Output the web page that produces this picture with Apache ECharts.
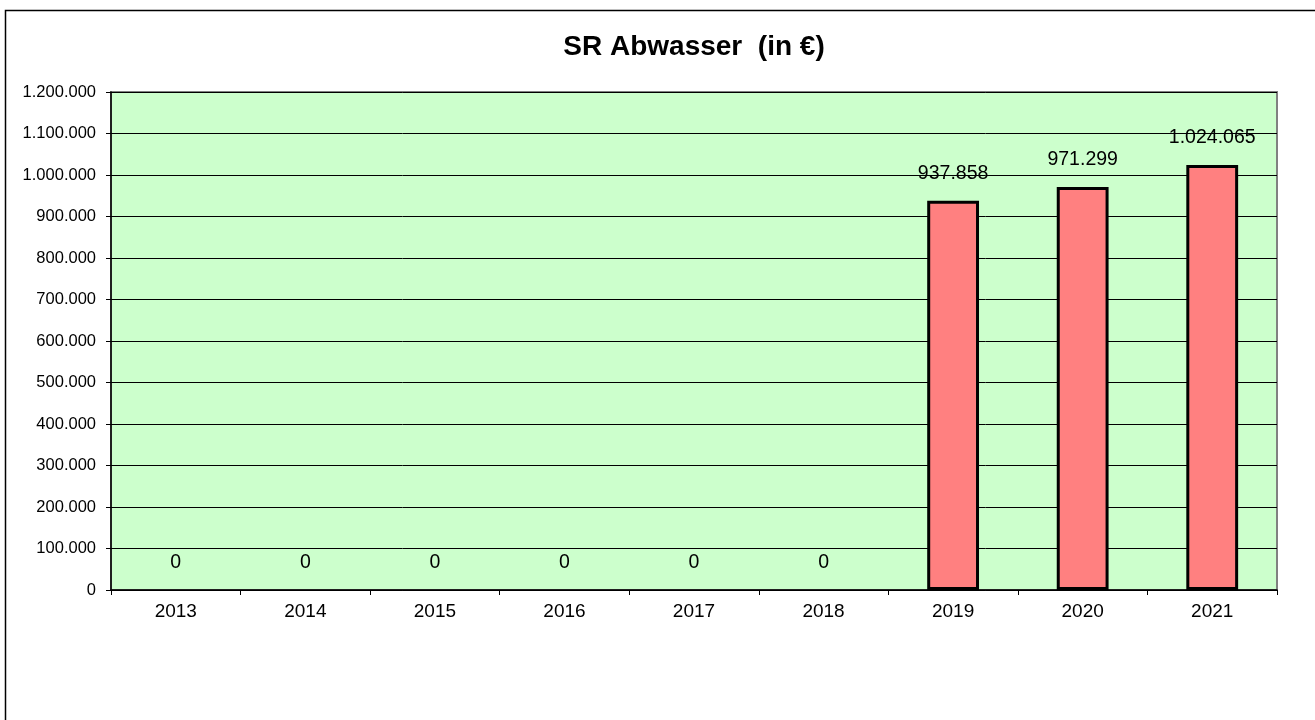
<!DOCTYPE html>
<html>
<head>
<meta charset="utf-8">
<title>SR Abwasser</title>
<script src="https://cdn.jsdelivr.net/npm/echarts@6/dist/echarts.min.js"></script>
<style>
html,body{margin:0;padding:0;background:#fff;}
#chart{width:1315px;height:720px;}
</style>
</head>
<body>
<div id="chart"></div>
<script>
//Jahre
var years = ['2013', '2014', '2015', '2016', '2017', '2018', '2019', '2020', '2021'];
//Werte in Euro
var values = [0, 0, 0, 0, 0, 0, 937858, 971299, 1024065];

//Zahl mit Punkt als Tausendertrennzeichen
function fmt(v){
	return String(Math.round(v)).replace(/\B(?=(\d{3})+(?!\d))/g, '.');
}

//Balken mit Wert 0 ohne Rahmen
var barData = values.map(function(v){
	return {value: v, itemStyle: {borderWidth: v === 0 ? 0 : 3}};
});

var font = 'Liberation Sans, Arial, sans-serif';
var option = {
	backgroundColor: '#fff',
	animation: false,
	title: {
		text: 'SR Abwasser  (in €)',
		left: 689,
		textAlign: 'center',
		top: 28,
		textStyle: {fontFamily: font, fontWeight: 'bold', fontSize: 28, color: '#000'}
	},
	graphic: [{
		type: 'rect',
		shape: {x: 5.5, y: 10.5, width: 1400, height: 800},
		style: {fill: 'none', stroke: '#000', lineWidth: 1.5},
		silent: true
	}],
	grid: {
		left: 111, right: 38, top: 92, bottom: 130,
		show: true,
		backgroundColor: '#CCFFCC',
		borderColor: '#808080',
		borderWidth: 2
	},
	xAxis: {
		type: 'category',
		data: years,
		axisLine: {lineStyle: {color: '#000', width: 1.5}},
		axisTick: {show: true, length: 5, lineStyle: {color: '#000'}},
		axisLabel: {fontFamily: font, fontSize: 19, color: '#000', margin: 12}
	},
	yAxis: {
		type: 'value',
		min: 0,
		max: 1200000,
		interval: 100000,
		axisLine: {show: true, lineStyle: {color: '#000', width: 1.5}},
		axisTick: {show: true, length: 5, lineStyle: {color: '#000'}},
		splitLine: {lineStyle: {color: '#000', width: 1}},
		axisLabel: {
			fontFamily: font, fontSize: 16.5, color: '#000', margin: 15,
			formatter: function(v){ return fmt(v); }
		}
	},
	series: [{
		type: 'bar',
		data: barData,
		barCategoryGap: '60%',
		itemStyle: {color: '#FF8080', borderColor: '#000', borderWidth: 3},
		label: {
			show: true,
			position: 'top',
			distance: 17,
			fontFamily: font,
			fontSize: 19.5,
			color: '#000',
			formatter: function(p){ return fmt(p.value); }
		}
	}]
};
var myChart = echarts.init(document.getElementById('chart'));
myChart.setOption(option, true);
</script>
</body>
</html>
